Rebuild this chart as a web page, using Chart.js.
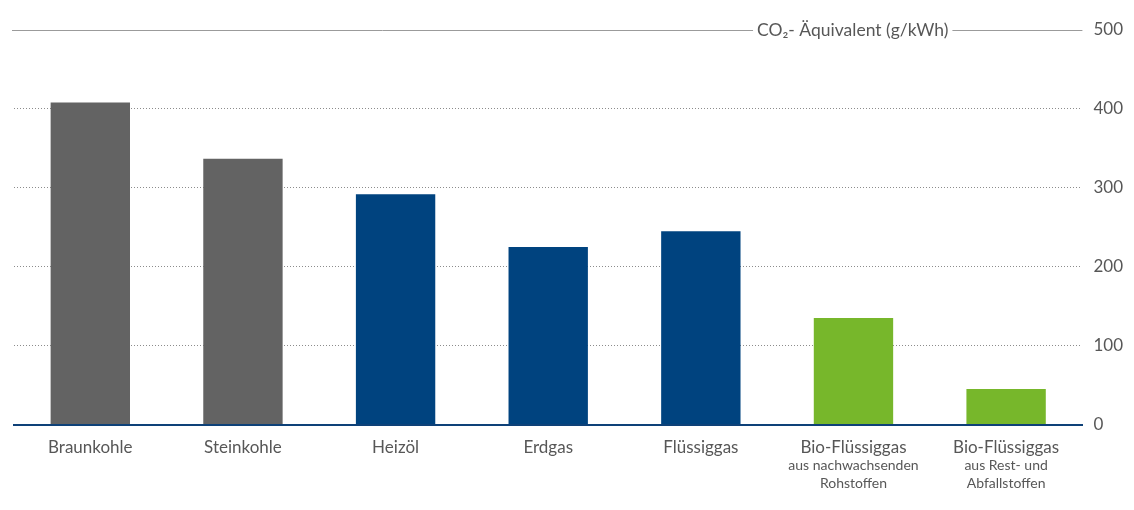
<!DOCTYPE html>
<html lang="de">
<head>
<meta charset="utf-8">
<title>CO2-Äquivalent</title>
<script src="https://cdn.jsdelivr.net/npm/chart.js@4.4.1/dist/chart.umd.min.js"></script>
<style>
    html, body { margin: 0; padding: 0; background: #fff; }
    #wrap { width: 1134px; height: 510px; }
</style>
</head>
<body>
<div id="wrap"><canvas id="chart"></canvas></div>
<script>
// Data
const categories = ['Braunkohle', 'Steinkohle', 'Heizöl', 'Erdgas', 'Flüssiggas', 'Bio-Flüssiggas', 'Bio-Flüssiggas'];
const subLabels = [[], [], [], [], [], ['aus nachwachsenden', 'Rohstoffen'], ['aus Rest- und', 'Abfallstoffen']];
const groups = ['kohle', 'kohle', 'fossil', 'fossil', 'fossil', 'bio', 'bio'];
const co2Values = [408, 337, 292, 225, 245, 135, 45];
const yTicks = [0, 100, 200, 300, 400, 500];
const axisTitle = 'CO₂- Äquivalent (g/kWh)';

const groupColors = { kohle: '#636363', fossil: '#00437f', bio: '#77b72b' };
const textColor = '#575757';
const fontFamily = 'Lato, "Open Sans", sans-serif';

// Top solid line with the unit title and the sub lines under the category labels
const overlay = {
    id: 'overlay',
    afterDraw(chart) {
        const { ctx, chartArea, scales: { x, y } } = chart;
        const yTop = Math.round(y.getPixelForValue(yTicks[yTicks.length - 1])) + 0.5;

        ctx.save();
        ctx.font = `17.5px ${fontFamily}`;
        const tw = ctx.measureText(axisTitle).width;
        const gapRight = chartArea.right - 130;
        const gapLeft = gapRight - tw - 8;

        ctx.strokeStyle = '#9b9b9b';
        ctx.lineWidth = 1;
        ctx.beginPath();
        ctx.moveTo(chartArea.left - 2, yTop);
        ctx.lineTo(gapLeft, yTop);
        ctx.moveTo(gapRight, yTop);
        ctx.lineTo(chartArea.right, yTop);
        ctx.stroke();

        ctx.fillStyle = textColor;
        ctx.textAlign = 'center';
        ctx.textBaseline = 'middle';
        ctx.fillText(axisTitle, (gapLeft + gapRight) / 2, yTop);

        ctx.font = `14px ${fontFamily}`;
        subLabels.forEach((lines, i) => {
            const cx = x.getPixelForValue(i);
            lines.forEach((t, j) => ctx.fillText(t, cx, y.bottom + 41 + j * 17.5));
        });
        ctx.restore();
    }
};

new Chart(document.getElementById('chart'), {
    type: 'bar',
    data: {
        labels: categories,
        datasets: [{
            data: co2Values,
            backgroundColor: groups.map(g => groupColors[g]),
            borderWidth: 0,
            categoryPercentage: 1,
            barPercentage: 0.52
        }]
    },
    options: {
        responsive: true,
        maintainAspectRatio: false,
        animation: false,
        layout: { padding: { top: 30, left: 14, right: 0, bottom: 39 } },
        plugins: {
            legend: { display: false },
            tooltip: { enabled: false }
        },
        scales: {
            x: {
                grid: { display: false, drawTicks: false },
                border: { display: true, color: '#0e4178', width: 2 },
                ticks: {
                    color: textColor,
                    font: { family: fontFamily, size: 17 },
                    padding: 13,
                    maxRotation: 0,
                    autoSkip: false
                }
            },
            y: {
                position: 'right',
                min: 0,
                max: 500,
                afterBuildTicks: scale => { scale.ticks = yTicks.map(v => ({ value: v })); },
                grid: {
                    drawTicks: false,
                    lineWidth: 1,
                    color: c => (c.tick && c.tick.value > 0 && c.tick.value < 500) ? '#8c8c8c' : 'rgba(0,0,0,0)'
                },
                border: { display: false, dash: [1, 2] },
                ticks: {
                    color: textColor,
                    font: { family: fontFamily, size: 17 },
                    padding: 11
                }
            }
        }
    },
    plugins: [overlay]
});
</script>
</body>
</html>
